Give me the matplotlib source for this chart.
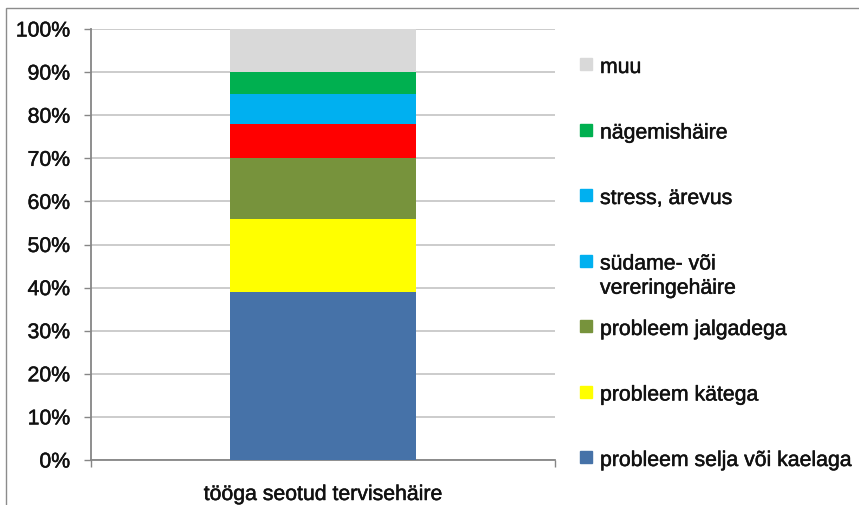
import matplotlib.pyplot as plt
import matplotlib.patheffects as pe
from matplotlib.patches import Rectangle

category = "tööga seotud tervisehäire"
labels = ["probleem selja või kaelaga", "probleem kätega", "probleem jalgadega",
          "südame- või\nvereringehäire", "stress, ärevus", "nägemishäire", "muu"]
values = [39, 17, 14, 8, 7, 5, 10]
bar_colors = ["#4672A8", "#FFFF00", "#77933C", "#FF0000", "#00B0F0", "#00B050", "#D9D9D9"]
# the original legend shows the heart entry in cyan, not red
legend_colors = ["#4672A8", "#FFFF00", "#77933C", "#00B0F0", "#00B0F0", "#00B050", "#D9D9D9"]
yticks = list(range(0, 101, 10))

plt.rcParams['font.family'] = ['Liberation Sans', 'DejaVu Sans']
FS = 15.3
heavy = [pe.withStroke(linewidth=0.35, foreground="#111111")]

W, H = 859, 506
fig = plt.figure(figsize=(W / 100, H / 100), dpi=100)
ax = fig.add_axes([91 / W, (H - 461) / H, 464 / W, 431 / H])

bottom = 0
for v, c in zip(values, bar_colors):
    ax.bar(0, v, bottom=bottom, width=0.403, color=c, zorder=3)
    bottom += v

ax.set_xlim(-0.5, 0.5)
ax.set_ylim(0, 100)
ax.set_yticks(yticks)
ax.set_yticklabels([f"{t}%" for t in yticks], fontsize=FS, color="#111111")
ax.yaxis.grid(True, color="#C8C8C8", linewidth=1.3, zorder=0)
ax.set_axisbelow(True)

ax.set_xticks([0])
ax.set_xticklabels([category], fontsize=FS, color="#111111")
ax.set_xticks([-0.5, 0.5], minor=True)
ax.tick_params(axis='x', which='major', length=0, pad=18)
ax.tick_params(axis='x', which='minor', length=5, color="#868686", width=1)
ax.tick_params(axis='y', length=5, color="#868686", width=1, pad=10)
for lab in ax.get_xticklabels() + ax.get_yticklabels():
    lab.set_path_effects(heavy)

for side in ("top", "right"):
    ax.spines[side].set_visible(False)
for side in ("left", "bottom"):
    ax.spines[side].set_color("#868686")
    ax.spines[side].set_linewidth(1.3)

# legend, top to bottom, drawn like the spreadsheet one
n = len(labels)
for i in range(n):
    k = n - 1 - i
    yc = 65 + 65.5 * i
    fig.patches.append(Rectangle((580 / W, (H - yc - 6) / H), 12 / W, 12 / H,
                                 transform=fig.transFigure, color=legend_colors[k]))
    fig.text(600 / W, (H - yc + 6) / H, labels[k], fontsize=FS, va='top',
             linespacing=1.35, color="#111111", path_effects=heavy)

# chart area border (right and bottom edges are cut off in the original)
fig.patches.append(Rectangle((6 / W, -10 / H), (W + 20) / W, (H - 9 + 10) / H,
                             transform=fig.transFigure, fill=False,
                             edgecolor="#8C8C8C", linewidth=1))

fig.savefig("out.png", dpi=100)
